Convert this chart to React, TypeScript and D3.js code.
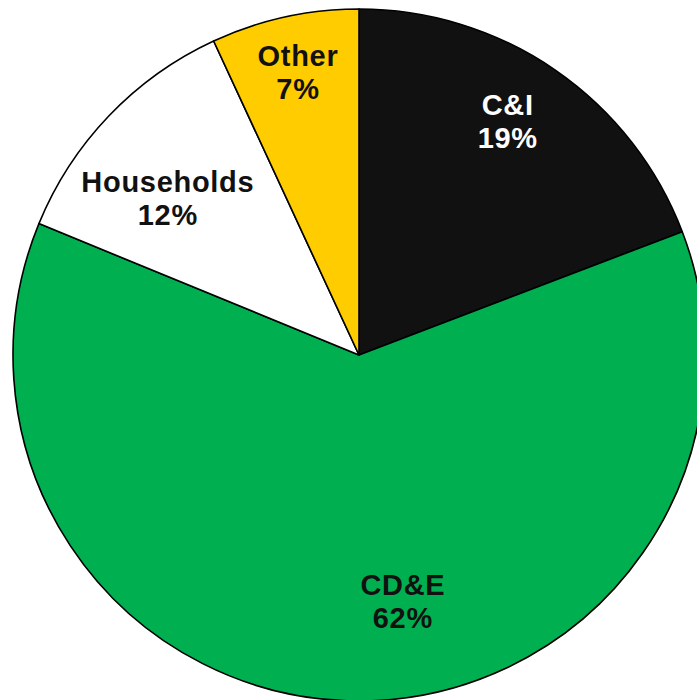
import React from "react";
import * as d3 from "d3";

const categories = ["C&I", "CD&E", "Households", "Other"];
const shares = [19.2, 62.0, 11.9, 6.9];
const percentLabels = ["19%", "62%", "12%", "7%"];

const sliceColors = ["#111111", "#00B050", "#FFFFFF", "#FFCC00"];
const labelColors = ["#FFFFFF", "#111111", "#111111", "#111111"];
// label placement (angle in degrees clockwise from top, distance as fraction of radius)
const labelAngles = [32.5, 169.9, 309.3, 347.8];
const labelDist = [0.80, 0.723, 0.714, 0.835];

const W = 697;
const H = 700;
const CX = 359;
const CY = 355;
const R = 346;

export default function App() {
  const data = categories.map((c, i) => ({ name: c, value: shares[i], i }));
  const pie = d3.pie<any>().value((d) => d.value).sort(null);
  const arcs = pie(data);
  const arcGen = d3.arc<any>().innerRadius(0).outerRadius(R);
  const lineGap = 33;

  return (
    <svg
      width={W}
      height={H}
      style={{ position: "absolute", left: 0, top: 0, background: "#fff" }}
    >
      <g transform={`translate(${CX},${CY})`}>
        {arcs.map((a, i) => (
          <path
            key={i}
            d={arcGen(a) as string}
            fill={sliceColors[i]}
            stroke="#000"
            strokeWidth={1.6}
            strokeLinejoin="round"
          />
        ))}
        {arcs.map((a, i) => {
          const ang = (labelAngles[i] * Math.PI) / 180;
          const d = labelDist[i] * R;
          const x = Math.sin(ang) * d;
          const y = -Math.cos(ang) * d;
          return (
            <text
              key={"t" + i}
              x={x}
              y={y}
              textAnchor="middle"
              fill={labelColors[i]}
              fontFamily="'Liberation Sans', Arial, sans-serif"
              fontWeight="bold"
              fontSize={29}
              letterSpacing={0.7}
            >
              <tspan x={x} y={y - lineGap / 2} dominantBaseline="central">
                {categories[i]}
              </tspan>
              <tspan x={x} y={y + lineGap / 2} dominantBaseline="central">
                {percentLabels[i]}
              </tspan>
            </text>
          );
        })}
      </g>
    </svg>
  );
}
